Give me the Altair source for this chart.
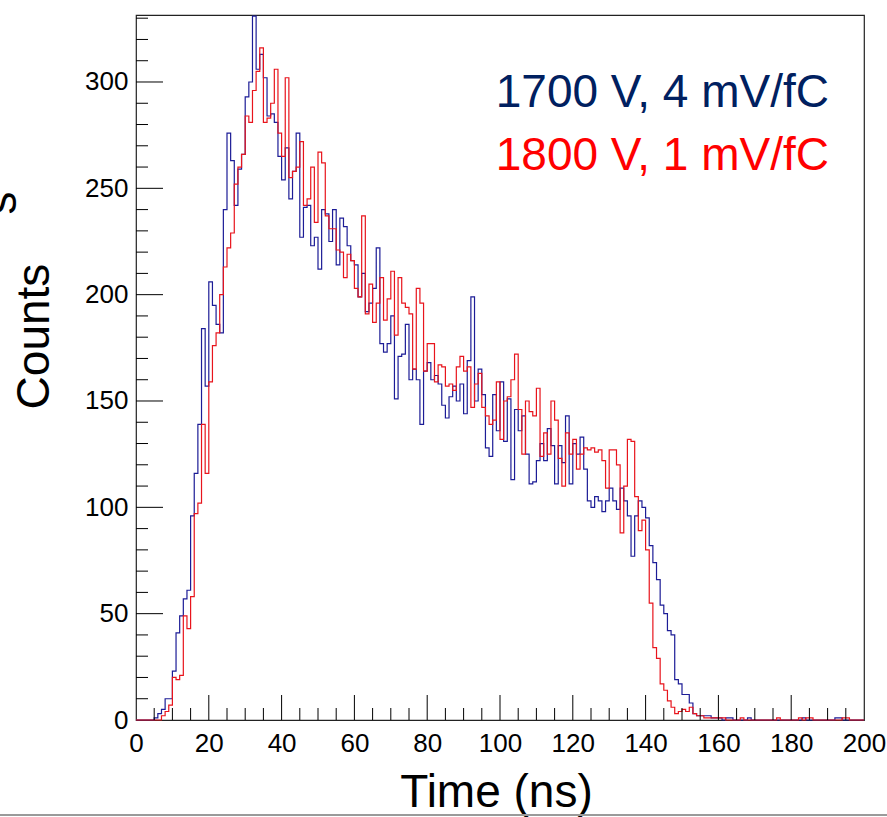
import altair as alt
import pandas as pd

# ---------------- data (1 ns bins, 0..200 ns) ----------------
bin_low_edges = list(range(0, 200))

counts_1700V = [
    0, 0, 0, 0, 0, 1, 3, 5, 10, 10,
    23, 41, 49, 57, 61, 96, 116, 139, 184, 157,
    206, 195, 186, 182, 240, 276, 263, 242, 259, 266,
    293, 300, 331, 306, 313, 302, 284, 285, 281, 265,
    254, 269, 245, 258, 276, 227, 241, 242, 223, 227,
    212, 240, 238, 225, 240, 214, 236, 232, 223, 216,
    214, 199, 210, 192, 196, 203, 222, 177, 173, 177,
    190, 151, 171, 172, 186, 160, 165, 160, 139, 164,
    168, 160, 162, 158, 148, 142, 152, 157, 150, 158,
    144, 169, 199, 150, 165, 153, 128, 124, 153, 136,
    159, 131, 151, 113, 146, 136, 143, 125, 111, 112,
    122, 130, 122, 137, 129, 111, 129, 121, 143, 111,
    130, 125, 133, 118, 103, 100, 105, 103, 98, 103,
    109, 103, 99, 109, 103, 96, 77, 96, 103, 100,
    95, 82, 74, 66, 54, 50, 42, 40, 19, 17,
    12, 12, 8, 3, 2, 2, 2, 2, 1, 1,
    1, 0, 1, 1, 0, 0, 0, 0, 1, 0,
    0, 0, 0, 0, 0, 0, 0, 0, 0, 0,
    0, 0, 0, 1, 0, 0, 0, 0, 0, 0,
    0, 0, 1, 1, 0, 0, 0, 0, 0, 0,
]

counts_1800V = [
    0, 0, 0, 0, 0, 0, 0, 2, 4, 7,
    20, 19, 21, 49, 43, 58, 97, 102, 139, 116,
    159, 176, 182, 200, 213, 222, 229, 252, 260, 266,
    284, 281, 296, 305, 316, 281, 283, 290, 306, 276,
    265, 302, 255, 258, 260, 272, 242, 245, 260, 234,
    267, 262, 237, 231, 231, 221, 220, 208, 219, 216,
    203, 199, 237, 191, 205, 187, 196, 208, 188, 198,
    211, 181, 208, 196, 194, 191, 165, 203, 196, 164,
    177, 177, 159, 167, 166, 157, 158, 155, 166, 171,
    164, 166, 147, 158, 163, 147, 143, 139, 141, 159,
    132, 150, 152, 160, 172, 146, 125, 150, 145, 143,
    156, 124, 135, 125, 150, 141, 123, 110, 135, 125,
    132, 118, 125, 128, 127, 128, 126, 127, 122, 109,
    127, 127, 120, 88, 110, 132, 131, 105, 89, 94,
    80, 55, 34, 29, 17, 14, 9, 6, 3, 4,
    5, 4, 6, 3, 2, 2, 1, 1, 1, 1,
    1, 1, 0, 0, 0, 0, 1, 0, 0, 0,
    0, 0, 0, 0, 0, 0, 1, 0, 0, 0,
    0, 0, 1, 0, 1, 1, 0, 0, 0, 0,
    0, 0, 0, 0, 1, 1, 0, 0, 0, 0,
]

series_labels = ["1700 V, 4 mV/fC", "1800 V, 1 mV/fC"]
line_colors = ["#1c1c96", "#e8141c"]
text_colors = ["#002060", "#ff0000"]

x_label_values = [0, 20, 40, 60, 80, 100, 120, 140, 160, 180, 200]
y_label_values = [0, 50, 100, 150, 200, 250, 300]
x_major_ticks = [20, 40, 60, 80, 100, 120, 140, 160, 180]
x_minor_ticks = [v for v in range(5, 200, 5) if v % 20 != 0]
y_major_ticks = [50, 100, 150, 200, 250, 300]
y_minor_ticks = [v for v in range(10, 331, 10) if v % 50 != 0]

X_MAX = 200
Y_MAX = 331.5
W, H = 728, 705
FONT = "Liberation Sans"

# ---------------- build tables ----------------
rows = []
for name, counts in zip(series_labels, [counts_1700V, counts_1800V]):
    for edge, c in zip(bin_low_edges, counts):
        rows.append({"t": edge, "c": c, "series": name})
    rows.append({"t": X_MAX, "c": counts[-1], "series": name})
hist_df = pd.DataFrame(rows)

x_scale = alt.Scale(domain=[0, X_MAX], nice=False, zero=False)
y_scale = alt.Scale(domain=[0, Y_MAX], nice=False, zero=False)

x_axis = alt.Axis(
    values=x_label_values, ticks=False, domain=False, grid=False,
    labelFont=FONT, labelFontSize=26, labelColor="black", labelPadding=10,
    labelFlush=False, labelOverlap=False,
    title="Time (ns)", titleFont=FONT, titleFontSize=46, titleFontWeight="normal",
    titleColor="black", titleBaseline="alphabetic", titleY=86, titleX=360,
)
y_axis = alt.Axis(
    values=y_label_values, ticks=False, domain=False, grid=False,
    labelFont=FONT, labelFontSize=26, labelColor="black", labelPadding=8,
    labelFlush=False, labelOverlap=False,
    title="Counts", titleFont=FONT, titleFontSize=46, titleFontWeight="normal",
    titleColor="black", titleAngle=270, titleAlign="center",
    titleBaseline="alphabetic", titleX=-88, titleY=321,
)

hist = alt.Chart(hist_df).mark_line(interpolate="step-after", strokeWidth=1.2).encode(
    x=alt.X("t:Q", scale=x_scale, axis=x_axis),
    y=alt.Y("c:Q", scale=y_scale, axis=y_axis),
    color=alt.Color("series:N", scale=alt.Scale(domain=series_labels, range=line_colors), legend=None),
    order=alt.Order("t:Q"),
)

def xt(vals, length):
    return alt.Chart(pd.DataFrame({"t": vals})).mark_rule(color="black", strokeWidth=1).encode(
        x=alt.X("t:Q", scale=x_scale, axis=x_axis),
        y=alt.value(H), y2=alt.value(H - length),
    )

def yt(vals, length):
    return alt.Chart(pd.DataFrame({"c": vals})).mark_rule(color="black", strokeWidth=1).encode(
        y=alt.Y("c:Q", scale=y_scale, axis=y_axis),
        x=alt.value(0), x2=alt.value(length),
    )

legend_df = pd.DataFrame({"label": series_labels, "col": text_colors, "ypix": [92, 155]})
legend_text = alt.Chart(legend_df).mark_text(
    align="right", baseline="alphabetic", font=FONT, fontSize=46
).encode(
    text="label:N",
    x=alt.value(693),
    y=alt.Y("ypix:Q", scale=None),
    color=alt.Color("col:N", scale=None, legend=None),
)

# clipped rotated letter at the far left edge (as in the reference)
clipped = alt.Chart(pd.DataFrame({"s": ["s"]})).mark_text(
    align="center", baseline="alphabetic", font=FONT, fontSize=46, angle=270, color="black"
).encode(text="s:N", x=alt.value(-120), y=alt.value(188))

bottom_line = alt.Chart(pd.DataFrame({"k": [0]})).mark_rule(color="#9a9a9a", strokeWidth=2).encode(
    x=alt.value(-136), x2=alt.value(751), y=alt.value(800)
)

chart = alt.layer(
    hist,
    xt(x_major_ticks, 25), xt(x_minor_ticks, 12),
    yt(y_major_ticks, 27), yt(y_minor_ticks, 12),
    legend_text, clipped, bottom_line,
).properties(
    width=W, height=H,
    autosize=alt.AutoSizeParams(type="none"),
    padding={"left": 136, "top": 15, "right": 23, "bottom": 97},
    background="white",
).configure_view(stroke="#222222", strokeWidth=1.2)

chart.save("out.html", embed_options={"renderer": "svg", "actions": False})
